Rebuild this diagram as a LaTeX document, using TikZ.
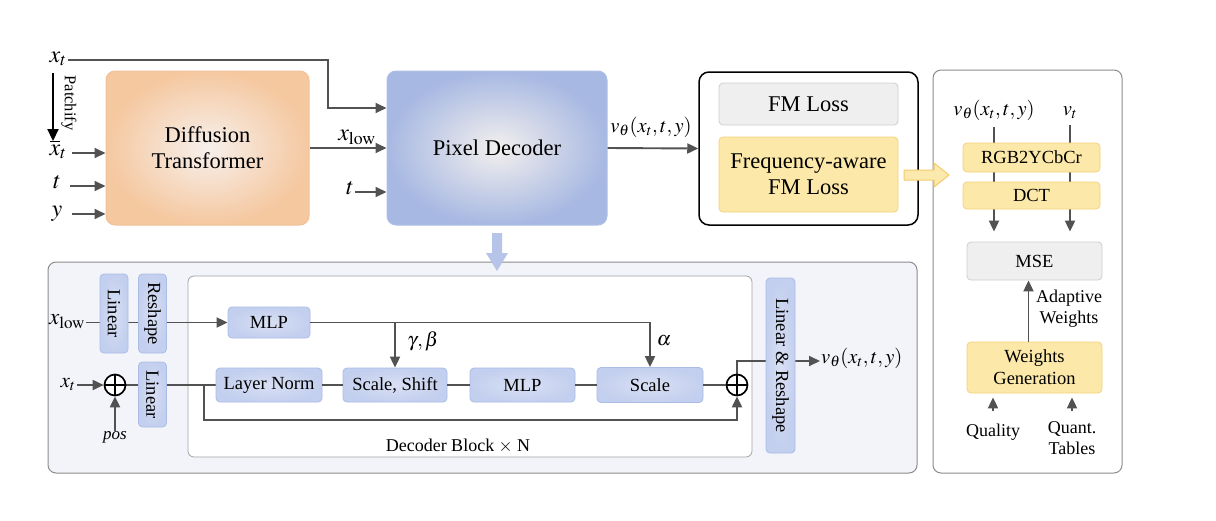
\documentclass[tikz,border=0pt]{standalone}
\usepackage{mathptmx}
\usepackage[no-math]{fontspec}
\setmainfont{Liberation Serif}
\newfontfamily\tnr{Liberation Serif}
\usetikzlibrary{arrows.meta,calc}
\pgfdeclarelayer{back}
\pgfdeclarelayer{bg}
\pgfsetlayers{back,bg,main}
\definecolor{linec}{HTML}{525252}
\definecolor{orout}{HTML}{F5C8A0}
\definecolor{orin}{HTML}{F7F0EC}
\definecolor{ordraw}{HTML}{F1C29A}
\definecolor{blout}{HTML}{A7B8E2}
\definecolor{blin}{HTML}{F3F0EE}
\definecolor{bldraw}{HTML}{AFC0E6}
\definecolor{sbfill}{HTML}{C3CFEE}
\definecolor{sbin}{HTML}{D9E0F4}
\definecolor{sbdraw}{HTML}{ABBCE6}
\definecolor{yfill}{HTML}{FCE8A8}
\definecolor{ydraw}{HTML}{F4D47C}
\definecolor{gfill}{HTML}{EFEFEF}
\definecolor{gdraw}{HTML}{CFCFCF}
\definecolor{panfill}{HTML}{F3F4FA}
\definecolor{pandraw}{HTML}{8C8C8C}
\definecolor{yarrfill}{HTML}{FCE9AE}
\definecolor{yarrdraw}{HTML}{F3CB6A}
\definecolor{barr}{HTML}{B5C4E8}
\begin{document}
\begin{tikzpicture}[x=1pt,y=-1pt,
  line/.style={draw=linec, line width=1.9pt},
  arr/.style={line, -{Triangle[length=11pt,width=10pt]}},
  bigfont/.style={font=\tnr\fontsize{22.5}{26}\selectfont},
  midfont/.style={font=\tnr\fontsize{18.5}{22}\selectfont},
  dtbox/.style={draw=ordraw, line width=1pt, rounded corners=9pt, inner color=orin, outer color=orout, bigfont, align=center},
  pdbox/.style={draw=bldraw, line width=1pt, rounded corners=9pt, inner color=blin, outer color=blout, bigfont, align=center},
  sbox/.style={draw=sbdraw, line width=0.8pt, rounded corners=4pt, inner color=sbin, outer color=sbfill, midfont, inner sep=0pt},
  vbox/.style={sbox, rotate=-90, minimum height=28pt},
  ybox/.style={draw=ydraw, line width=0.8pt, rounded corners=4pt, fill=yfill, midfont, align=center, inner sep=0pt},
  gbox/.style={draw=gdraw, line width=0.8pt, rounded corners=4pt, fill=gfill, midfont, inner sep=0pt},
  oplus/.style={circle, draw=black, line width=1.7pt, minimum size=21pt, inner sep=0pt, fill=white,
    path picture={\draw[line width=1.7pt] (path picture bounding box.north) -- (path picture bounding box.south)
      (path picture bounding box.west) -- (path picture bounding box.east);}},
  mlab/.style={font=\fontsize{24}{26}\selectfont, anchor=mid, inner sep=1pt},
  slab/.style={font=\fontsize{20.5}{22}\selectfont, anchor=mid, inner sep=1pt},
  txt/.style={font=\tnr\fontsize{18}{21}\selectfont, align=center, inner sep=0pt}
]
\useasboundingbox (0,0) rectangle (1216,520);

% ---------- panels ----------
\begin{pgfonlayer}{back}
\node[draw=black, line width=1.5pt, rounded corners=10pt, fill=white, minimum width=219pt, minimum height=153pt] (lf) at (808.5,148.5) {};
\node[draw=pandraw, line width=1pt, rounded corners=8pt, fill=white, minimum width=189pt, minimum height=403pt] (rp) at (1027.5,271.5) {};
\node[draw=pandraw, line width=1pt, rounded corners=8pt, fill=panfill, minimum width=869pt, minimum height=211pt] (bp) at (482.5,367.5) {};
\node[draw=pandraw!80, line width=0.8pt, rounded corners=6pt, fill=white, minimum width=564pt, minimum height=181pt] (db) at (470,366.5) {};
\end{pgfonlayer}

% ---------- top row ----------
\node[dtbox, minimum width=203pt, minimum height=154pt] (dt) at (207.5,148) {Diffusion\\Transformer};
\node[pdbox, minimum width=220pt, minimum height=154pt] (pd) at (497,148) {Pixel Decoder};
\node[gbox, bigfont, minimum width=179pt, minimum height=42pt] (fm) at (808.5,104) {FM Loss};
\node[ybox, bigfont, minimum width=179pt, minimum height=75pt] (ffm) at (808.5,174.5) {Frequency-aware\\FM Loss};

\node[mlab] (xt) at (58,60) {$x_t$};
\node[mlab] (xb) at (58,153) {$\overline{x}_t$};
\node[mlab] (tt) at (57,186) {$t$};
\node[mlab] (yy) at (57,214) {$y$};
\coordinate (pa) at (53,73);
\coordinate (pb) at (53,141);
\draw[black, line width=2.2pt, -{Triangle[length=12pt,width=11pt]}] (pa) -- (pb);
\node[rotate=-90, font=\tnr\fontsize{16.5}{18}\selectfont, inner sep=0pt] (patch) at (69,103) {Patchify};

\draw[arr] ($(xb.mid east)+(4,0)$) -- (xb.mid east -| dt.west);
\draw[arr] ($(tt.mid east)+(8,0)$) -- (tt.mid east -| dt.west);
\draw[arr] ($(yy.mid east)+(8,0)$) -- (yy.mid east -| dt.west);

\coordinate (c1) at (328,108);
\draw[arr] (xt.mid east) -| (c1) -- (c1 -| pd.west);
\draw[arr] (dt.east) -- (dt.east -| pd.west);
\node[mlab] (xlow) at (357,138) {$x_{\mathrm{low}}$};
\node[mlab] (t2) at (350,192) {$t$};
\draw[arr] (t2.mid east) -- (t2.mid east -| pd.west);

\draw[arr] (pd.east) -- (lf.west);
\node[slab] (vo1) at (651,130) {$v_\theta(x_t,t,y)$};

% yellow block arrow
\draw[draw=yarrdraw, fill=yarrfill, line width=1pt, line join=round]
  (904,170) -- (934,170) -- (934,163) -- (949,175) -- (934,187) -- (934,180) -- (904,180) -- cycle;

% blue block arrow down
\fill[barr] (492,233) -- (502,233) -- (502,253) -- (508,253) -- (497,271) -- (486,253) -- (492,253) -- cycle;

% ---------- right panel ----------
\node[slab] (vr) at (994,113) {$v_\theta(x_t,t,y)$};
\node[slab] (vt) at (1070,113) {$v_t$};
\node[ybox, minimum width=137pt, minimum height=29pt] (rgb) at (1031.5,157.5) {RGB2YCbCr};
\node[ybox, minimum width=137pt, minimum height=27pt] (dct) at (1031.5,195.5) {DCT};
\node[gbox, minimum width=135pt, minimum height=38pt] (mse) at (1034.5,261) {MSE};
\node[ybox, minimum width=135pt, minimum height=51pt] (wg) at (1034.5,367.5) {Weights\\Generation};
\begin{pgfonlayer}{bg}
\draw[arr, shorten >=10pt] ($(vr.south)+(0,5)$) -- (vr.south |- mse.north);
\draw[arr, shorten >=10pt] ($(vt.south)+(0,5)$) -- (vt.south |- mse.north);
\end{pgfonlayer}
\draw[arr] ($(wg.north)+(-6,0)$) -- ($(mse.south)+(-6,0)$);
\node[txt] (aw) at (1069,309) {Adaptive\\Weights};
\node[txt] (ql) at (993,432) {Quality};
\node[txt] (qt) at (1072,438) {Quant.\\Tables};
\coordinate (qa) at (993,411);
\coordinate (qb) at (1072,411);
\draw[arr, shorten >=4pt] (qa) -- (qa |- wg.south);
\draw[arr, shorten >=4pt] (qb) -- (qb |- wg.south);

% ---------- bottom panel ----------
\node[vbox, minimum width=79pt] (lin1) at (114,313.5) {Linear};
\node[vbox, minimum width=79pt] (resh) at (152.5,313.5) {Reshape};
\node[vbox, minimum width=65pt] (lin2) at (152.5,394.5) {Linear};
\node[vbox, minimum width=175pt, minimum height=29pt] (linres) at (780.5,365.5) {Linear \& Reshape};

\node[sbox, minimum width=82pt, minimum height=31pt] (mlp1) at (269,322.5) {MLP};
\node[sbox, minimum width=106pt, minimum height=34pt] (ln) at (269,385) {Layer Norm};
\node[sbox, minimum width=104pt, minimum height=34pt] (ss) at (395,385) {Scale, Shift};
\node[sbox, minimum width=105pt, minimum height=34pt] (mlp2) at (522.5,385) {MLP};
\node[sbox, minimum width=106pt, minimum height=35pt] (sc) at (650,385) {Scale};
\node[oplus] (p1) at (115,385) {};
\node[oplus] (p2) at (737,385) {};

\node[slab, font=\fontsize{23}{25}\selectfont] (xl2) at (67,322.5) {$x_{\mathrm{low}}$};
\node[slab, font=\fontsize{21}{23}\selectfont] (xt2) at (68,385) {$x_t$};
\node[txt, font=\tnr\fontsize{17}{19}\itshape] (pos) at (115,437) {pos};
\node[slab, font=\fontsize{20}{22}\selectfont] (gb) at (423,344) {$\gamma,\beta$};
\node[slab, font=\fontsize{20}{22}\selectfont] (al) at (664,343) {$\alpha$};
\node[slab, anchor=mid west] (vo2) at (820,361) {$v_\theta(x_t,t,y)$};
\node[txt] (dbl) at (458,446) {Decoder Block $\times$ N};

\begin{pgfonlayer}{bg}
\draw[arr] (xl2.mid east) -- (xl2.mid east -| mlp1.west);
\draw[line] (p1.east) -- (ln.west);
\draw[arr] (p2.north) |- (vo2.mid west);
\end{pgfonlayer}
\draw[arr] (mlp1.east) -| (sc.north);
\draw[arr] (mlp1.east -| ss.north) -- (ss.north);
\draw[arr] (xt2.mid east) -- (p1.west);
\draw[arr] (pos.north) -- (p1.south);
\draw[line] (ln.east) -- (ss.west);
\draw[line] (ss.east) -- (mlp2.west);
\draw[line] (mlp2.east) -- (sc.west);
\draw[line] (sc.east) -- (p2.west);
\coordinate (r0) at (204,385);
\coordinate (r1) at (204,420);
\draw[arr] (r0) -- (r1) -| (p2.south);
\end{tikzpicture}
\end{document}
